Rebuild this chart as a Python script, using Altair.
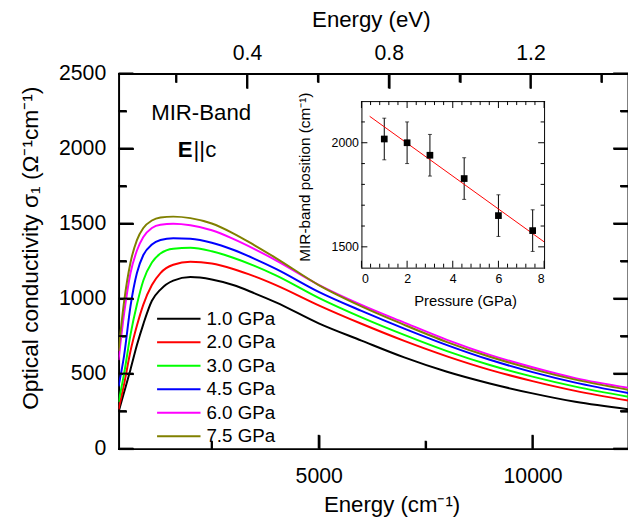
import altair as alt
import pandas as pd

FONT = "Liberation Sans"
W, H = 516, 380

# ---------------- data ----------------
ENERGY_CM = [320, 450, 600, 750, 900, 1100, 1300, 1600, 2000, 2500, 3000,
             3500, 4000, 5000, 6000, 7000, 8000, 9000, 10000, 11000, 12250]
SIGMA_1_0 = [245, 375, 528, 690, 830, 985, 1060, 1120, 1143, 1127, 1090,
             1035, 975, 835, 720, 608, 512, 434, 368, 312, 262]
SIGMA_2_0 = [262, 430, 650, 820, 960, 1090, 1170, 1225, 1245, 1233, 1197,
             1148, 1090, 955, 832, 718, 615, 525, 450, 385, 320]
SIGMA_3_0 = [310, 500, 760, 960, 1120, 1240, 1300, 1332, 1338, 1315, 1272,
             1218, 1155, 1005, 875, 758, 650, 557, 480, 413, 345]
SIGMA_4_5 = [415, 620, 950, 1170, 1290, 1360, 1390, 1402, 1398, 1372, 1325,
             1265, 1198, 1045, 918, 800, 690, 592, 510, 440, 370]
SIGMA_6_0 = [590, 900, 1170, 1320, 1410, 1470, 1492, 1498, 1488, 1455, 1398,
             1330, 1255, 1092, 958, 840, 725, 625, 542, 470, 405]
SIGMA_7_5 = [650, 980, 1240, 1390, 1470, 1520, 1540, 1546, 1536, 1500, 1435,
             1355, 1270, 1090, 948, 825, 710, 612, 530, 460, 392]
SERIES = [SIGMA_1_0, SIGMA_2_0, SIGMA_3_0, SIGMA_4_5, SIGMA_6_0, SIGMA_7_5]
LABELS = ["1.0 GPa", "2.0 GPa", "3.0 GPa", "4.5 GPa", "6.0 GPa", "7.5 GPa"]
COLORS = ["#000000", "#ff0000", "#00ff00", "#0000ff", "#ff00ff", "#808000"]

# inset
PRESSURE = [1.0, 2.0, 3.0, 4.5, 6.0, 7.5]
MIR_POS = [2018, 2000, 1940, 1828, 1650, 1578]
MIR_ERR = [100, 100, 100, 100, 100, 100]
FIT_P = [0.36, 8.0]
FIT_POS = [2127, 1524]

# axis ranges and ticks
X_DOMAIN = [321, 12232]
Y_DOMAIN = [0, 2500]
EV_DOMAIN = [0.0376, 1.4749]
X_MAJOR = [5000, 10000]
X_MINOR = [2500, 7500]
Y_MAJOR = [0, 500, 1000, 1500, 2000, 2500]
Y_MINOR = [250, 750, 1250, 1750, 2250]
EV_MAJOR = [0.4, 0.8, 1.2]
EV_MINOR = [0.2, 0.6, 1.0, 1.4]
IX_DOMAIN = [0, 8]
IY_DOMAIN = [1400, 2200]
IX_MAJOR = [0, 2, 4, 6, 8]
IX_MINOR = [0.4, 0.8, 1.2, 1.6, 2.4, 2.8, 3.2, 3.6, 4.4, 4.8, 5.2, 5.6,
            6.4, 6.8, 7.2, 7.6]
IY_MAJOR = [1500, 2000]
IY_MINOR = [1600, 1700, 1800, 1900, 2100]

# inset placement inside the plot area (pixels)
IX_RANGE = [246, 431]
IY_RANGE = [196.7, 28]
YR = [H, 0]
XR = [0, W]


def sx():
    return alt.Scale(domain=X_DOMAIN, nice=False, zero=False)


def sy():
    return alt.Scale(domain=Y_DOMAIN, nice=False, zero=False)


def sev():
    return alt.Scale(domain=EV_DOMAIN, nice=False, zero=False)


def six():
    return alt.Scale(domain=IX_DOMAIN, range=IX_RANGE, nice=False, zero=False)


def siy():
    return alt.Scale(domain=IY_DOMAIN, range=IY_RANGE, nice=False, zero=False)


def frame_axis(orient, offset, width):
    return alt.Axis(orient=orient, offset=offset, ticks=False, labels=False,
                    domain=True, domainColor="black", domainWidth=width,
                    domainCap="square", grid=False)


# tick-only axis whose ticks point into the frame
def in_axis(orient, offset, values, length, width):
    return alt.Axis(orient=orient, offset=offset, values=values, ticks=True,
                    tickSize=alt.ExprRef(expr=str(-length)), tickWidth=width,
                    tickColor="black", tickOpacity=1, labels=False,
                    domain=False, grid=False)


def tick_guide(xv, xs, xaxis, yv, ys, yaxis):
    return alt.Chart(pd.DataFrame({"gx": [xv], "gy": [yv]})).mark_point(opacity=0).encode(
        x=alt.X("gx:Q", scale=xs, axis=xaxis, title=None),
        y=alt.Y("gy:Q", scale=ys, axis=yaxis, title=None),
    )


def px_to_units(px, domain, rng):
    return px * abs(domain[1] - domain[0]) / abs(rng[1] - rng[0])


def inward(edge, dom, d):
    return edge + d if edge == dom[0] else edge - d


def tick_frame(groups):
    rows = []
    for values, edge, d, dom in groups:
        for val in values:
            rows.append({"pos": val, "lo": edge, "hi": inward(edge, dom, d)})
    return pd.DataFrame(rows)


def vticks(groups, xs, ys, width):
    return alt.Chart(tick_frame(groups)).mark_rule(
        color="black", strokeWidth=width
    ).encode(
        x=alt.X("pos:Q", scale=xs, axis=None),
        y=alt.Y("lo:Q", scale=ys, axis=None),
        y2="hi:Q",
    )


def hticks(groups, ys, xs, width):
    return alt.Chart(tick_frame(groups)).mark_rule(
        color="black", strokeWidth=width
    ).encode(
        y=alt.Y("pos:Q", scale=ys, axis=None),
        x=alt.X("lo:Q", scale=xs, axis=None),
        x2="hi:Q",
    )


def label_text(text, x, y, size, angle=0, weight="normal", align="center"):
    return alt.Chart(pd.DataFrame({"t": [text]})).mark_text(
        font=FONT, fontSize=size, fontWeight=weight, align=align,
        baseline="alphabetic", color="black", angle=angle,
    ).encode(x=alt.value(x), y=alt.value(y), text="t:N")


# ---------------- curves ----------------
rows = []
for lab, ser in zip(LABELS, SERIES):
    for e, s in zip(ENERGY_CM, ser):
        rows.append({"energy": e, "sigma": s, "p": lab})
curves_df = pd.DataFrame(rows)

curves = alt.Chart(curves_df).mark_line(
    strokeWidth=2, interpolate="monotone", clip=True
).encode(
    x=alt.X("energy:Q", scale=sx(), axis=None),
    y=alt.Y("sigma:Q", scale=sy(), axis=None),
    color=alt.Color(
        "p:N",
        scale=alt.Scale(domain=LABELS, range=COLORS),
        legend=alt.Legend(
            orient="none", legendX=38, legendY=237, title=None,
            symbolType="stroke", symbolSize=1936, symbolStrokeWidth=2,
            labelFontSize=19, labelFont=FONT, labelColor="black",
            labelOffset=5, clipHeight=23, rowPadding=0.8, padding=0,
            labelLimit=300,
        ),
    ),
    detail="p:N",
)

# ---------------- main axes (frame + labels) ----------------
x_lab_axis = alt.Axis(
    orient="bottom", values=X_MAJOR, format="d", ticks=False, domain=True,
    domainColor="black", domainWidth=2, domainCap="square", labels=True,
    labelFontSize=21.5, labelPadding=17, grid=False,
)
y_lab_axis = alt.Axis(
    orient="left", values=Y_MAJOR, format="d", ticks=False, domain=True,
    domainColor="black", domainWidth=2, domainCap="square", labels=True,
    labelFontSize=21.5, labelPadding=13, grid=False,
)
ev_lab_axis = alt.Axis(
    orient="top", values=EV_MAJOR, format=".1f", ticks=False, domain=True,
    domainColor="black", domainWidth=2, domainCap="square", labels=True,
    labelFontSize=21.5, labelPadding=9, grid=False,
)

g1 = tick_guide(X_DOMAIN[0], sx(), x_lab_axis, 0, sy(), y_lab_axis)
g2 = tick_guide(EV_DOMAIN[0], sev(), ev_lab_axis, 0, sy(), frame_axis("left", -W, 2))

# inward tick axes (negative tick length)
t1 = tick_guide(X_DOMAIN[0], sx(), in_axis("bottom", 0, X_MAJOR, 14, 2),
                0, sy(), in_axis("left", 0, Y_MAJOR, 15, 2))
t2 = tick_guide(X_DOMAIN[0], sx(), in_axis("bottom", 0, X_MINOR, 8, 2),
                0, sy(), in_axis("left", 0, Y_MINOR, 8, 2))
t3 = tick_guide(EV_DOMAIN[0], sev(), in_axis("top", 0, EV_MAJOR, 15, 2),
                0, sy(), in_axis("right", 0, Y_MAJOR, 15, 2))
t4 = tick_guide(EV_DOMAIN[0], sev(), in_axis("top", 0, EV_MINOR, 9, 2),
                0, sy(), in_axis("right", 0, Y_MINOR, 8, 2))

uy = lambda px: px_to_units(px, Y_DOMAIN, YR)
ux = lambda px: px_to_units(px, X_DOMAIN, XR)

main_panel = alt.layer(
    curves,
    vticks([(X_MAJOR, Y_DOMAIN[0], uy(14), Y_DOMAIN),
            (X_MINOR, Y_DOMAIN[0], uy(8), Y_DOMAIN)], sx(), sy(), 2),
    hticks([(Y_MAJOR, X_DOMAIN[0], ux(15), X_DOMAIN),
            (Y_MINOR, X_DOMAIN[0], ux(8), X_DOMAIN),
            (Y_MAJOR, X_DOMAIN[1], ux(15), X_DOMAIN),
            (Y_MINOR, X_DOMAIN[1], ux(8), X_DOMAIN)], sy(), sx(), 2),
)
ev_panel = vticks([(EV_MAJOR, Y_DOMAIN[1], uy(15), Y_DOMAIN),
                   (EV_MINOR, Y_DOMAIN[1], uy(9), Y_DOMAIN)], sev(), sy(), 2)

# ---------------- inset ----------------
ins_df = pd.DataFrame({"p": PRESSURE, "pos": MIR_POS, "err": MIR_ERR})
ins_df["lo"] = ins_df["pos"] - ins_df["err"]
ins_df["hi"] = ins_df["pos"] + ins_df["err"]

err_rules = alt.Chart(ins_df).mark_rule(color="black", strokeWidth=1).encode(
    x=alt.X("p:Q", scale=six(), axis=None),
    y=alt.Y("lo:Q", scale=siy(), axis=None),
    y2="hi:Q",
)
cap_lo = alt.Chart(ins_df).mark_tick(color="black", orient="horizontal", size=4, thickness=1).encode(
    x=alt.X("p:Q", scale=six(), axis=None),
    y=alt.Y("lo:Q", scale=siy(), axis=None),
)
cap_hi = alt.Chart(ins_df).mark_tick(color="black", orient="horizontal", size=4, thickness=1).encode(
    x=alt.X("p:Q", scale=six(), axis=None),
    y=alt.Y("hi:Q", scale=siy(), axis=None),
)
fit = alt.Chart(pd.DataFrame({"p": FIT_P, "pos": FIT_POS})).mark_line(
    color="#ff0000", strokeWidth=1
).encode(
    x=alt.X("p:Q", scale=six(), axis=None),
    y=alt.Y("pos:Q", scale=siy(), axis=None),
)
pts = alt.Chart(ins_df).mark_square(size=46, color="black", opacity=1).encode(
    x=alt.X("p:Q", scale=six(), axis=None),
    y=alt.Y("pos:Q", scale=siy(), axis=None),
)

iuy = lambda px: px_to_units(px, IY_DOMAIN, IY_RANGE)
iux = lambda px: px_to_units(px, IX_DOMAIN, IX_RANGE)
inset_panel = alt.layer(
    err_rules, cap_lo, cap_hi, fit, pts,
    vticks([(IX_MAJOR, IY_DOMAIN[0], iuy(7), IY_DOMAIN),
            (IX_MINOR, IY_DOMAIN[0], iuy(4), IY_DOMAIN),
            (IX_MAJOR, IY_DOMAIN[1], iuy(7), IY_DOMAIN),
            (IX_MINOR, IY_DOMAIN[1], iuy(4), IY_DOMAIN)], six(), siy(), 1),
    hticks([(IY_MAJOR, IX_DOMAIN[0], iux(6), IX_DOMAIN),
            (IY_MINOR, IX_DOMAIN[0], iux(3.5), IX_DOMAIN),
            (IY_MAJOR, IX_DOMAIN[1], iux(6), IX_DOMAIN),
            (IY_MINOR, IX_DOMAIN[1], iux(3.5), IX_DOMAIN)], siy(), six(), 1),
)

ix_lab_axis = alt.Axis(
    orient="bottom", offset=IY_RANGE[0] - H, values=IX_MAJOR,
    format="d", ticks=False, domain=True, domainColor="black", domainWidth=1,
    domainCap="square", labels=True, labelFontSize=12.5, labelPadding=5,
    grid=False,
)
iy_lab_axis = alt.Axis(
    orient="left", offset=-IX_RANGE[0], values=IY_MAJOR, format="d",
    ticks=False, domain=True, domainColor="black", domainWidth=1,
    domainCap="square", labels=True, labelFontSize=12.5, labelPadding=3,
    grid=False,
)
i1 = tick_guide(0, six(), ix_lab_axis, 1400, siy(), iy_lab_axis)
i2 = tick_guide(0, six(), frame_axis("bottom", IY_RANGE[1] - H, 1),
                1400, siy(), frame_axis("left", -IX_RANGE[1], 1))

# ---------------- titles and annotations ----------------
texts = [
    label_text("Energy (cm\u207b\u00b9)", 277, 444, 22.5),
    label_text("Energy (eV)", 256, -47, 22.5),
    label_text("Optical conductivity \u03c3\u2081 (\u03a9\u207b\u00b9cm\u207b\u00b9)",
               -82, 177, 23, angle=270),
    label_text("Pressure (GPa)", 351.5, 235.5, 15),
    label_text("MIR-band position (cm\u207b\u00b9)", 194, 105, 15.5, angle=270),
    label_text("MIR-Band", 33, 47, 22.5, align="left"),
    label_text("E", 75, 85, 22.5, weight="bold", align="right"),
    label_text("||c", 76, 85, 22.5, align="left"),
]

chart = alt.layer(
    g1, g2, i1, i2, t1, t2, t3, t4,
    main_panel, ev_panel, inset_panel,
    *texts,
).resolve_scale(
    x="independent", y="independent"
).properties(
    width=W, height=H,
    padding={"left": 112, "top": 63, "right": 0, "bottom": 70},
    autosize=alt.AutoSizeParams(type="none"),
).configure_view(
    stroke=None
).configure_axis(
    labelFont=FONT, titleFont=FONT, labelColor="black", titleColor="black",
    titleFontWeight="normal", labelOverlap=False,
)

chart.save("out.html", embed_options={"renderer": "svg", "actions": False})
